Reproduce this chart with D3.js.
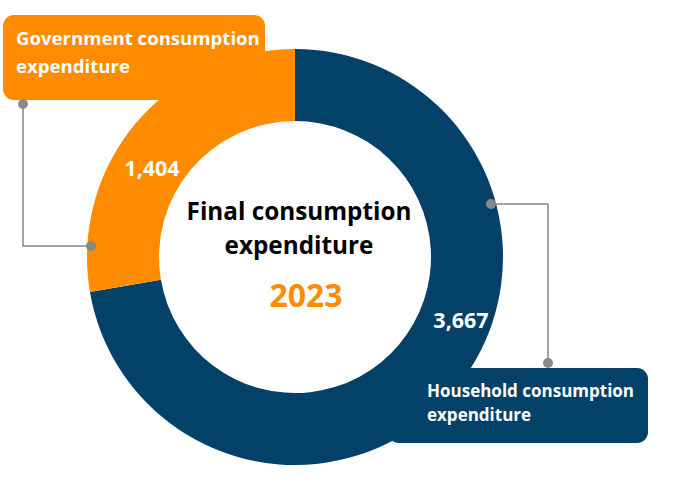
<!DOCTYPE html>
<html>
<head>
<meta charset="utf-8">
<script src="https://cdn.jsdelivr.net/npm/d3@7"></script>
<style>
  body { margin: 0; background: #fff; }
  svg { display: block; font-family: "Open Sans", Lato, sans-serif; }
</style>
</head>
<body>
<div id="chart"></div>
<script>
// data
const categories = ["Household consumption expenditure", "Government consumption expenditure"];
const values = [3667, 1404];
const valueLabels = ["3,667", "1,404"];
const centerTitle = ["Final consumption", "expenditure"];
const centerYear = "2023";

const width = 673, height = 478;
const cx = 295, cy = 257;
const outerR = 208, innerR = 136;
const colors = d3.scaleOrdinal().domain(categories).range(["#034168", "#FF8B00"]);

const svg = d3.select("#chart")
    .append("svg")
    .attr("width", width)
    .attr("height", height);

// callout boxes (rects behind the ring, text on top)
const boxes = [
    { cat: categories[1], x: 3, y: 15, w: 262, h: 85, lines: ["Government consumption", "expenditure"], tx: 16, ty: 45, fs: 18.6, lh: 28 },
    { cat: categories[0], x: 388, y: 368, w: 260, h: 75, lines: ["Household consumption", "expenditure"], tx: 427, ty: 397, fs: 17, lh: 24 }
];

svg.selectAll("rect.box")
    .data(boxes)
    .join("rect")
    .attr("class", "box")
    .attr("x", d => d.x)
    .attr("y", d => d.y)
    .attr("width", d => d.w)
    .attr("height", d => d.h)
    .attr("rx", 11)
    .attr("fill", d => colors(d.cat));

// donut
const pie = d3.pie().sort(null).value(d => d)(values);
const arc = d3.arc().innerRadius(innerR).outerRadius(outerR);

const ring = svg.append("g").attr("transform", `translate(${cx},${cy})`);

ring.selectAll("path")
    .data(pie)
    .join("path")
    .attr("d", arc)
    .attr("fill", (d, i) => colors(categories[i]));

svg.selectAll("text.boxlabel")
    .data(boxes)
    .join("text")
    .attr("class", "boxlabel")
    .attr("fill", "#fff")
    .attr("font-weight", 700)
    .attr("font-size", d => d.fs)
    .each(function (d) {
        d3.select(this).selectAll("tspan")
            .data(d.lines)
            .join("tspan")
            .attr("x", d.tx)
            .attr("y", (l, i) => d.ty + i * d.lh)
            .text(l => l);
    });

// value labels
const labelPos = [[461, 322], [152, 170]];
ring.selectAll("text.val")
    .data(pie)
    .join("text")
    .attr("class", "val")
    .attr("x", (d, i) => labelPos[i][0] - cx)
    .attr("y", (d, i) => labelPos[i][1] - cy)
    .attr("text-anchor", "middle")
    .attr("dominant-baseline", "middle")
    .attr("fill", "#fff")
    .attr("font-weight", 700)
    .attr("font-size", 21.5)
    .text((d, i) => valueLabels[i]);

// connectors
const connectors = [
    [[491, 204], [548, 204], [548, 363]],
    [[23, 104], [23, 246], [91, 246]]
];
const line = d3.line();
svg.selectAll("path.conn")
    .data(connectors)
    .join("path")
    .attr("class", "conn")
    .attr("d", line)
    .attr("fill", "none")
    .attr("stroke", "#888")
    .attr("stroke-width", 1.5);

svg.selectAll("circle.dot")
    .data(connectors.flatMap(c => [c[0], c[c.length - 1]]))
    .join("circle")
    .attr("class", "dot")
    .attr("cx", d => d[0])
    .attr("cy", d => d[1])
    .attr("r", 5)
    .attr("fill", "#888");

// center text
svg.append("text")
    .attr("text-anchor", "middle")
    .attr("font-weight", 700)
    .attr("font-size", 24.3)
    .attr("fill", "#000")
    .selectAll("tspan")
    .data(centerTitle)
    .join("tspan")
    .attr("x", 299)
    .attr("y", (d, i) => 220 + i * 34)
    .text(d => d);

svg.append("text")
    .attr("x", 306)
    .attr("y", 307)
    .attr("text-anchor", "middle")
    .attr("font-weight", 700)
    .attr("font-size", 32)
    .attr("fill", "#FF8B00")
    .text(centerYear);
</script>
</body>
</html>
